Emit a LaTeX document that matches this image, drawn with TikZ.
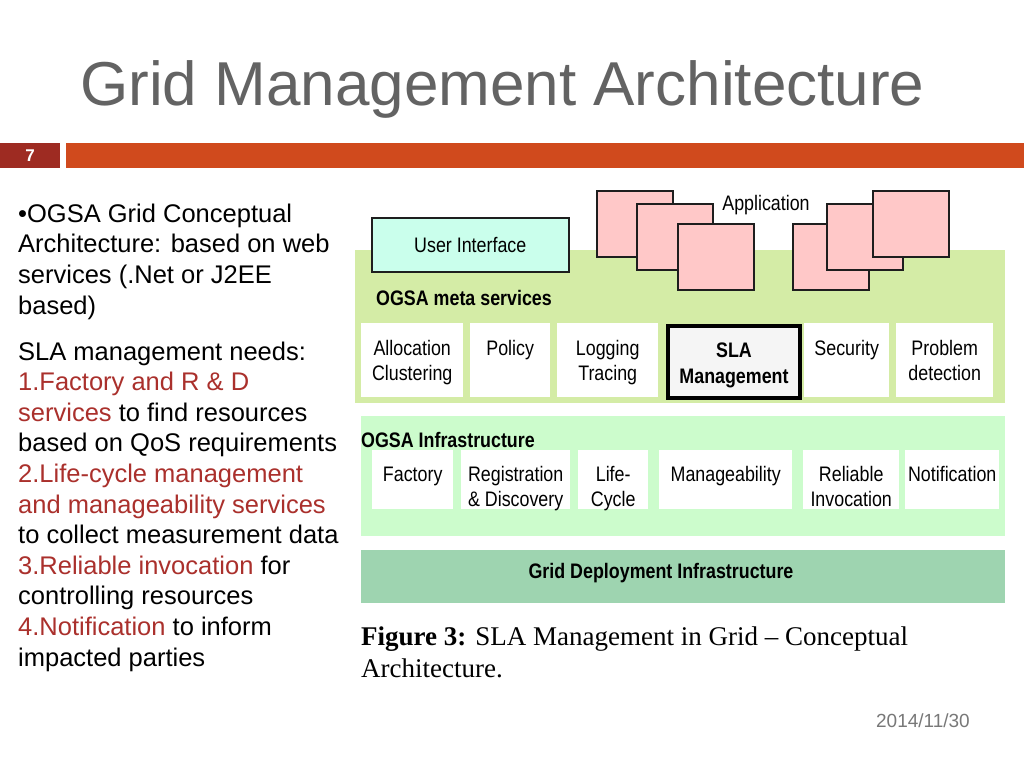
\documentclass[tikz,border=0pt]{standalone}
\usepackage{fontspec}
\setmainfont{Liberation Sans}
\newfontfamily\narrowfont[FakeStretch=0.85]{Liberation Sans}
\newfontfamily\capfont[Ligatures=TeX]{Liberation Serif}
\definecolor{titlegray}{RGB}{99,99,99}
\definecolor{datagray}{RGB}{120,120,120}
\definecolor{pgred}{RGB}{158,43,34}
\definecolor{barorange}{RGB}{208,74,29}
\definecolor{txtred}{RGB}{170,48,44}
\definecolor{metagreen}{RGB}{212,236,166}
\definecolor{infragreen}{RGB}{204,252,204}
\definecolor{deploygreen}{RGB}{158,212,176}
\definecolor{uicyan}{RGB}{202,255,236}
\definecolor{apppink}{RGB}{255,200,200}
\definecolor{boxdark}{RGB}{30,30,30}
\tikzset{
  layer/.style={draw=none, inner sep=0pt, anchor=north west},
  svcbox/.style={fill=white, draw=none, inner sep=0pt, anchor=north west},
  appsq/.style={fill=apppink, draw=boxdark, line width=1.5pt, inner sep=0pt, anchor=north west, minimum width=76pt, minimum height=66pt},
  lbl/.style={font=\narrowfont\fontsize{21}{25}\selectfont, align=center, inner sep=0pt, anchor=north},
  hdr/.style={font=\narrowfont\bfseries\fontsize{21}{24}\selectfont, inner sep=0pt},
}
\newcommand{\rd}[1]{\textcolor{txtred}{#1}}
\begin{document}
\begin{tikzpicture}[x=1pt,y=-1pt]
\useasboundingbox (0,0) rectangle (1024,768);
\fill[white] (0,0) rectangle (1024,768);
% title
\node[anchor=base west, inner sep=0pt, text=titlegray, font=\fontsize{62}{70}\selectfont] (title) at (80,105) {Grid Management Architecture};
% header bar
\node[layer, fill=pgred, minimum width=60pt, minimum height=25pt] (pgbox) at (0,143) {};
\node[text=white, font=\bfseries\fontsize{17}{20}\selectfont, inner sep=0pt] (pgnum) at (pgbox.center) {7};
\node[layer, fill=barorange, minimum width=958pt, minimum height=25pt] (bar) at (66,143) {};
% left text (first baseline at y=222; strut height 0.7*30.6)
\node[anchor=north west, inner sep=0pt, align=left, font=\fontsize{25.5}{30.6}\selectfont] (lefttext) at (18,200.6) {%
\strut\textbullet OGSA Grid Conceptual\\
Architecture: based on web\\
services (.Net or J2EE\\
based)\\[15.4pt]
SLA management needs:\\
\rd{1.Factory and R \& D}\\
\rd{services} to find resources\\
based on QoS requirements\\
\rd{2.Life-cycle management}\\
\rd{and manageability services}\\
to collect measurement data\\
\rd{3.Reliable invocation} for\\
controlling resources\\
\rd{4.Notification} to inform\\
impacted parties};
% layers
\node[layer, fill=metagreen, minimum width=650pt, minimum height=153pt] (meta) at (355,250) {};
\node[layer, fill=infragreen, minimum width=644pt, minimum height=120pt] (infra) at (361,416) {};
\node[layer, fill=deploygreen, minimum width=644pt, minimum height=53pt] (deploy) at (361,550) {};
% user interface
\node[anchor=north west, fill=uicyan, draw=boxdark, line width=1.5pt, minimum width=197pt, minimum height=54pt, inner sep=0pt] (ui) at (371,217) {};
\node[font=\narrowfont\fontsize{21}{25}\selectfont, inner sep=0pt] (uitext) at (ui.center) {User Interface};
% applications
\node[appsq] (l1) at (596,190) {};
\node[appsq] (l2) at (636,203) {};
\node[appsq] (l3) at (677,223) {};
\node[appsq] (r1) at (792,223) {};
\node[appsq] (r2) at (826,203) {};
\node[appsq] (r3) at (872,190) {};
\node[font=\narrowfont\fontsize{21}{25}\selectfont, inner sep=0pt] (apptext) at (766,205) {Application};
% meta services
\node[hdr, anchor=base west] (metatitle) at (376,305.5) {OGSA meta services};
\node[svcbox, minimum width=102pt, minimum height=74pt] (alloc) at (361,323) {};
\node[svcbox, minimum width=80pt, minimum height=74pt] (policy) at (470,323) {};
\node[svcbox, minimum width=101pt, minimum height=74pt] (logging) at (557,323) {};
\node[anchor=north west, fill=black!4, draw=black, line width=4pt, minimum width=132pt, minimum height=72pt, inner sep=0pt] (sla) at (666,324) {};
\node[svcbox, minimum width=85pt, minimum height=74pt] (security) at (804,323) {};
\node[svcbox, minimum width=97pt, minimum height=74pt] (problem) at (896,323) {};
\node[lbl] (allocT) at ([yshift=-14.5pt]alloc.north) {\strut Allocation\\Clustering};
\node[lbl] (policyT) at ([yshift=-14.5pt]policy.north) {\strut Policy};
\node[lbl] (loggingT) at ([yshift=-14.5pt]logging.north) {\strut Logging\\Tracing};
\node[lbl, font=\narrowfont\bfseries\fontsize{21}{26}\selectfont] (slaT) at ([yshift=-15pt]sla.north) {\strut SLA\\Management};
\node[lbl] (securityT) at ([yshift=-14.5pt]security.north) {\strut Security};
\node[lbl] (problemT) at ([yshift=-14.5pt]problem.north) {\strut Problem\\detection};
% infrastructure
\node[hdr, anchor=base west] (infratitle) at (361,447.5) {OGSA Infrastructure};
\node[svcbox, minimum width=81pt, minimum height=59pt] (factory) at (372,450) {};
\node[svcbox, minimum width=109pt, minimum height=59pt] (regis) at (461,450) {};
\node[svcbox, minimum width=70pt, minimum height=59pt] (life) at (578,450) {};
\node[svcbox, minimum width=133pt, minimum height=59pt] (manage) at (659,450) {};
\node[svcbox, minimum width=96pt, minimum height=59pt] (reliable) at (803,450) {};
\node[svcbox, minimum width=94pt, minimum height=59pt] (notif) at (905,450) {};
\node[lbl] (factoryT) at ([yshift=-13.5pt]factory.north) {\strut Factory};
\node[lbl] (regisT) at ([yshift=-13.5pt]regis.north) {\strut Registration\\\& Discovery};
\node[lbl] (lifeT) at ([yshift=-13.5pt]life.north) {\strut Life-\\Cycle};
\node[lbl] (manageT) at ([yshift=-13.5pt]manage.north) {\strut Manageability};
\node[lbl] (reliableT) at ([yshift=-13.5pt]reliable.north) {\strut Reliable\\Invocation};
\node[lbl] (notifT) at ([yshift=-13.5pt]notif.north) {\strut Notification};
% deployment
\node[hdr] (deployT) at (661,573) {Grid Deployment Infrastructure};
% caption (first baseline at y=645; strut height 0.7*32)
\node[anchor=north west, inner sep=0pt, align=left, font=\capfont\fontsize{27}{32}\selectfont] (caption) at (361,622.6) {\strut\textbf{Figure 3:} SLA Management in Grid \textendash{} Conceptual\\Architecture.};
% date
\node[anchor=base east, inner sep=0pt, text=datagray, font=\fontsize{19}{22}\selectfont] (date) at (970,727) {2014/11/30};
\end{tikzpicture}
\end{document}
